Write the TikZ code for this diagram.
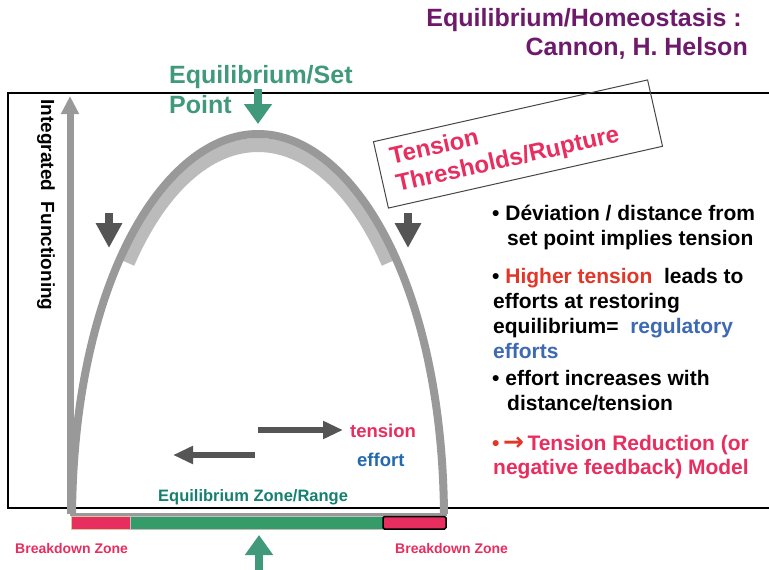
\documentclass[tikz,border=0pt]{standalone}
\usepackage{fontspec}
\setmainfont{Liberation Sans}
\newfontfamily\arrowfont{DejaVu Sans}
\usetikzlibrary{positioning,arrows.meta}

\definecolor{purp}{RGB}{110,26,107}
\definecolor{setgreen}{RGB}{64,153,122}
\definecolor{zoneteal}{RGB}{22,128,112}
\definecolor{bargreen}{RGB}{52,155,105}
\definecolor{pinkz}{RGB}{232,45,95}
\definecolor{redtxt}{RGB}{226,54,40}
\definecolor{bluetxt}{RGB}{62,106,180}
\definecolor{effblue}{RGB}{35,105,175}
\definecolor{darkgr}{RGB}{85,85,85}
\definecolor{archgray}{RGB}{153,153,153}
\definecolor{bandgray}{RGB}{187,187,187}
\definecolor{tanz}{RGB}{215,200,160}
\definecolor{boxgray}{RGB}{70,70,70}

\newcommand\bsize[2]{\fontsize{#1}{#2}\selectfont\bfseries}

\begin{document}
\begin{tikzpicture}[
  x=1pt, y=-1pt,
  title/.style={font=\bsize{25}{30}, text=purp, inner sep=0pt},
  setlbl/.style={font=\bsize{25}{30}, text=setgreen, inner sep=0pt, anchor=base west},
  bul/.style={font=\bsize{21}{25}, inner sep=0pt, anchor=base west},
  brk/.style={font=\bsize{14}{17}, text=pinkz, inner sep=0pt, anchor=base west},
  axisarrow/.style={draw=archgray, line width=7pt, -{Triangle[width=17pt,length=18pt]}},
  downarrow/.style={draw=darkgr, line width=8pt, -{Triangle[width=25pt,length=25pt]}},
  greenarrow/.style={draw=setgreen, line width=8pt, -{Triangle[width=27pt,length=20pt]}},
  hzarrow/.style={draw=darkgr, line width=6pt, -{Triangle[width=17pt,length=20pt]}},
]
\fill[white] (0,0) rectangle (769,570);
\useasboundingbox (0,0) rectangle (769,570);

% ---- title ----
\node[title, anchor=base east] (ttl1) at (742,27) {Equilibrium/Homeostasis :};
\node[title, anchor=base east] (ttl2) at (748,56) {Cannon, H. Helson};

% ---- frame ----
\draw[line width=1.5pt] (769,93) -- (8,93) -- (8,508) -- (769,508);

% ---- axis ----
\coordinate (axbot) at (70,514);
\coordinate (axtop) at (70,96);
\draw[axisarrow] (axbot) -- (axtop);
\node[font=\bsize{19}{23}, rotate=-90] (yax) at (46,205) {Integrated\ \ Functioning};

% ---- arch with inner band ----
\draw[bandgray, line width=14pt] (127.8,262.9) .. controls (160.6,187.4) and (208,145) .. (258,145)
  .. controls (308,145) and (355.4,187.4) .. (388.2,262.9);
\draw[archgray, line width=8pt] (72,514) .. controls (74,280) and (165,134) .. (258,134)
  .. controls (351,134) and (442,280) .. (444,514);
\draw[archgray, line width=3pt] (70,514.5) -- (447,514.5);

% ---- set point ----
\node[setlbl] (set1) at (169,83) {Equilibrium/Set};
\node[setlbl] (set2) at (169,113) {Point};
\coordinate (settail) at (258,89);
\coordinate (settip) at (258,124);
\draw[greenarrow] (settail) -- (settip);

% ---- thresholds ----
\coordinate (thlTop) at (109,213);
\coordinate (thlTip) at (109,248);
\draw[downarrow] (thlTop) -- (thlTip);
\coordinate (thrTop) at (408,213);
\coordinate (thrTip) at (408,248);
\draw[downarrow] (thrTop) -- (thrTip);
\node[draw=boxgray, line width=1pt, rotate=12.7, text width=255pt, inner xsep=13pt, inner ysep=6pt,
  minimum height=68pt, align=left, text=pinkz, font=\bsize{24}{28}] (thr) at (518,144)
  {Tension\\Thresholds/Rupture};

% ---- tension / effort ----
\node[font=\bsize{18.5}{22}, text=pinkz, inner sep=0pt, anchor=base west] (tns) at (350,437) {tension};
\node[font=\bsize{18.5}{22}, text=effblue, inner sep=0pt, anchor=base west] (eff) at (357,466) {effort};
\coordinate (tnsstart) at (258,430);
\draw[hzarrow, shorten >=7pt] (tnsstart) -- (tns.west |- tnsstart);
\coordinate (effstart) at (255,455);
\coordinate (effend) at (173,455);
\draw[hzarrow] (effstart) -- (effend);

\node[font=\bsize{16.5}{20}, text=zoneteal, inner sep=0pt, anchor=base west] (zone) at (158,501) {Equilibrium Zone/Range};

% ---- zone bar ----
\filldraw[fill=pinkz, draw=tanz, line width=1pt] (71,516.5) rectangle (130,529);
\filldraw[fill=bargreen, draw=gray!50, line width=0.8pt] (130,516.5) rectangle (383,529);
\filldraw[fill=pinkz, draw=black, line width=1.5pt, rounded corners=1.5pt] (383,516.5) rectangle (446,529);
\node[brk] (brkL) at (15,553) {Breakdown Zone};
\node[brk] (brkR) at (395,553) {Breakdown Zone};
\coordinate (barfoot) at (259,572);
\coordinate (bartip) at (259,535);
\draw[greenarrow] (barfoot) -- (bartip);

% ---- bullets ----
\node[bul] (b1a) at (492,220) {•\ Déviation / distance from};
\node[bul] (b1b) at (507,245) {set point implies tension};
\node[bul] (b2a) at (492,283) {•\ \textcolor{redtxt}{Higher tension}\ \ leads to};
\node[bul] (b2b) at (493,308) {efforts at restoring};
\node[bul] (b2c) at (493,333) {equilibrium=\ \ \textcolor{bluetxt}{regulatory}};
\node[bul, text=bluetxt] (b2d) at (493,358) {efforts};
\node[bul] (b3a) at (492,385) {•\ effort increases with};
\node[bul] (b3b) at (507,410) {distance/tension};
\node[bul, text=pinkz] (b4a) at (492,450) {{\color{redtxt}•\,{\arrowfont\bfseries\fontsize{25}{25}\selectfont →}}\,Tension Reduction (or};
\node[bul, text=pinkz] (b4b) at (493,474) {negative feedback) Model};
\end{tikzpicture}
\end{document}
